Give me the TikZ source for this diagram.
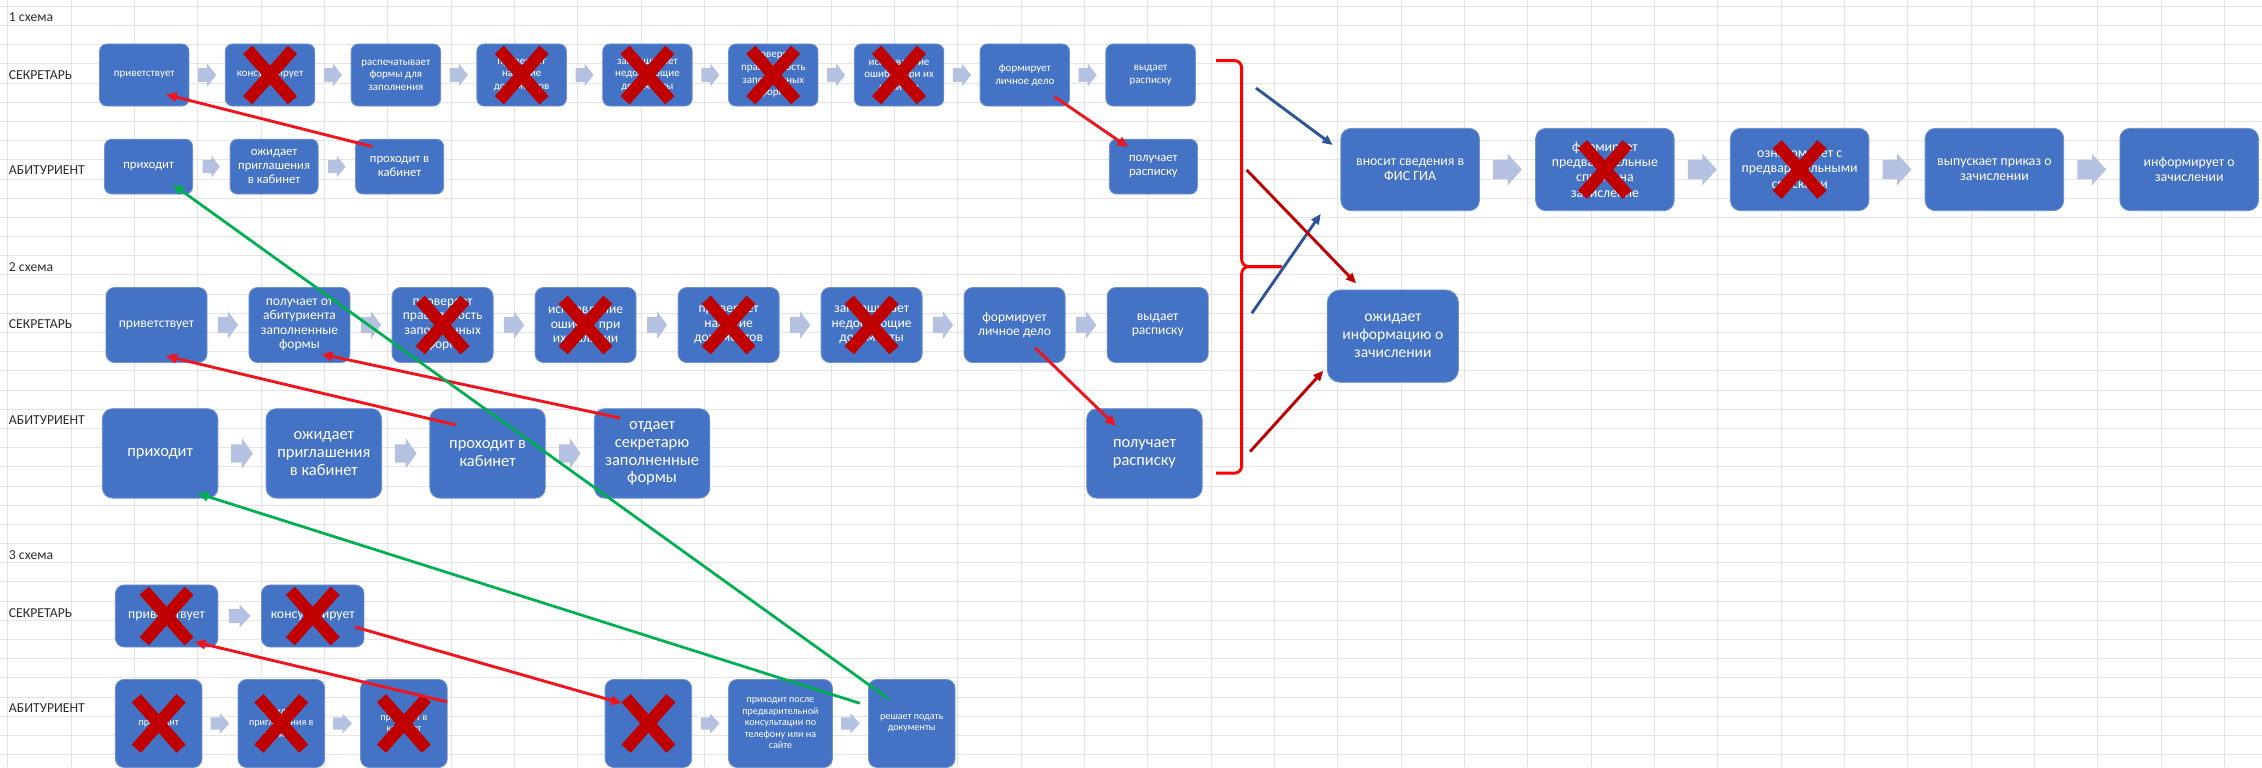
\documentclass[tikz,border=0pt]{standalone}
\usepackage{fontspec}
\setmainfont{Carlito}
\usetikzlibrary{calc,arrows.meta}
\definecolor{boxblue}{RGB}{68,114,196}
\definecolor{boxedge}{RGB}{110,145,210}
\definecolor{arrowc}{RGB}{180,193,224}
\definecolor{xred}{RGB}{192,0,0}
\definecolor{lred}{RGB}{240,20,30}
\definecolor{bred}{RGB}{255,0,0}
\definecolor{dred}{RGB}{192,0,0}
\definecolor{lgreen}{RGB}{0,176,80}
\definecolor{dblue}{RGB}{47,85,151}
\definecolor{gridc}{RGB}{228,228,228}
\definecolor{labc}{RGB}{45,45,45}
\newcommand\fs[2]{\fontsize{#1}{#2}\selectfont}
\newcommand\xmk[1]{\draw[xm] ($(#1.center)+(-15.5,-17.5)$) -- ($(#1.center)+(15.5,17.5)$) ($(#1.center)+(15.5,-17.5)$) -- ($(#1.center)+(-15.5,17.5)$);}
\tikzset{
  box/.style={rectangle, rounded corners=5pt, fill=boxblue, draw=boxedge, line width=0.6pt, text=white, align=center, inner sep=1pt},
  lab/.style={anchor=west, inner sep=0pt, text=labc, font=\fs{9.5}{11}},
  xm/.style={draw=xred, line width=8.5pt, line cap=butt},
  gridline/.style={draw=gridc, line width=0.7pt},
  rarrow/.style={draw=lred, line width=2pt, -{Triangle[length=7.5pt,width=6.5pt]}},
  garrow/.style={draw=lgreen, line width=1.9pt, -{Triangle[length=7.5pt,width=6.5pt]}},
  barrow/.style={draw=dblue, line width=2pt, -{Triangle[length=7pt,width=6pt]}},
  darrow/.style={draw=dred, line width=2pt, -{Triangle[length=7pt,width=6pt]}},
  bracel/.style={draw=bred, line width=2pt, rounded corners=5pt},
  pics/barr/.style args={#1/#2}{code={\fill[arrowc] (-#1/2,-0.3*#2) -- (0,-0.3*#2) -- (0,-#2/2) -- (#1/2,0) -- (0,#2/2) -- (0,0.3*#2) -- (-#1/2,0.3*#2) -- cycle;}}
}
\begin{document}
\begin{tikzpicture}[x=1pt,y=-1pt]
\useasboundingbox (0,0) rectangle (1568,532);
\fill[white] (0,0) rectangle (1568,532);
% spreadsheet grid
\foreach \i in {0,...,39} \draw[gridline] (0,4.4+13.3*\i) -- (1568,4.4+13.3*\i);
\foreach \j in {0,...,35} \draw[gridline] (5.5+43.9*\j,0) -- (5.5+43.9*\j,532);

% labels
\node[lab] (h1) at (6,11.6) {1 схема};
\node[lab] (sec1) at (6,52) {СЕКРЕТАРЬ};
\node[lab] (ab1) at (6,118) {АБИТУРИЕНТ};
\node[lab] (h2) at (6,185) {2 схема};
\node[lab] (sec2) at (6,225) {СЕКРЕТАРЬ};
\node[lab] (ab2) at (6,291) {АБИТУРИЕНТ};
\node[lab] (h3) at (6,385) {3 схема};
\node[lab] (sec3) at (6,425) {СЕКРЕТАРЬ};
\node[lab] (ab3) at (6,491) {АБИТУРИЕНТ};

% ---------- schema 1, secretary
\tikzset{s1/.style={box, minimum width=62pt, minimum height=43pt, font=\fs{7.6}{8.7}}}
\node[s1] (S1a) at (100,52) {приветствует};
\node[s1] (S1b) at (187.2,52) {консультирует};
\node[s1] (S1c) at (274.4,52) {распечатывает\\формы для\\заполнения};
\node[s1] (S1d) at (361.6,52) {проверяет\\наличие\\документов};
\node[s1] (S1e) at (448.8,52) {запрашивает\\недостающие\\документы};
\node[s1] (S1f) at (536,52) {проверяет\\правильность\\заполненных\\форм};
\node[s1] (S1g) at (623.2,52) {исправление\\ошибок при их\\наличии};
\node[s1] (S1h) at (710.4,52) {формирует\\личное дело};
\node[s1] (S1i) at (797.6,52) {выдает\\расписку};
\foreach \a/\b in {S1a/S1b,S1b/S1c,S1c/S1d,S1d/S1e,S1e/S1f,S1f/S1g,S1g/S1h,S1h/S1i}
  \pic at ($(\a.east)!0.5!(\b.west)$) {barr=12.5/16};

% schema 1, applicant
\tikzset{a1/.style={box, minimum width=61pt, minimum height=38pt, font=\fs{8.8}{9.8}}}
\node[a1] (A1a) at (103,115.5) {приходит};
\node[a1] (A1b) at (190,115.5) {ожидает\\приглашения\\в кабинет};
\node[a1] (A1c) at (277,115.5) {проходит в\\кабинет};
\node[a1] (A1d) at (799.5,115.5) {получает\\расписку};
\foreach \a/\b in {A1a/A1b,A1b/A1c}
  \pic at ($(\a.east)!0.5!(\b.west)$) {barr=12/15};

% ---------- right part
\tikzset{rb/.style={box, rounded corners=7pt, minimum width=96pt, minimum height=57pt, font=\fs{9.6}{10.6}}}
\node[rb] (R1) at (977.5,117.5) {вносит сведения в\\ФИС ГИА};
\node[rb] (R2) at (1112.5,117.5) {формирует\\предварительные\\списки на\\зачисление};
\node[rb] (R3) at (1247.5,117.5) {ознакомляет с\\предварительными\\списками};
\node[rb] (R4) at (1382.5,117.5) {выпускает приказ о\\зачислении};
\node[rb] (R5) at (1517.5,117.5) {информирует о\\зачислении};
\foreach \a/\b in {R1/R2,R2/R3,R3/R4,R4/R5}
  \pic at ($(\a.east)!0.5!(\b.west)$) {barr=20/22};
\node[box, rounded corners=9pt, minimum width=91pt, minimum height=64pt, font=\fs{10.8}{12.4}] (R6) at (965.5,233) {ожидает\\информацию о\\зачислении};

% ---------- schema 2, secretary
\tikzset{s2/.style={box, rounded corners=6pt, minimum width=70pt, minimum height=52pt, font=\fs{9.4}{10}}}
\node[s2] (S2a) at (108.5,225.3) {приветствует};
\node[s2] (S2b) at (207.6,225.3) {получает от\\абитуриента\\заполненные\\формы};
\node[s2] (S2c) at (306.8,225.3) {проверяет\\правильность\\заполненных\\форм};
\node[s2] (S2d) at (405.9,225.3) {исправление\\ошибок при\\их наличии};
\node[s2] (S2e) at (505.1,225.3) {проверяет\\наличие\\документов};
\node[s2] (S2f) at (604.2,225.3) {запрашивает\\недостающие\\документы};
\node[s2] (S2g) at (703.3,225.3) {формирует\\личное дело};
\node[s2] (S2h) at (802.5,225.3) {выдает\\расписку};
\foreach \a/\b in {S2a/S2b,S2b/S2c,S2c/S2d,S2d/S2e,S2e/S2f,S2f/S2g,S2g/S2h}
  \pic at ($(\a.east)!0.5!(\b.west)$) {barr=14/19};

% schema 2, applicant
\tikzset{a2/.style={box, rounded corners=7pt, minimum width=80pt, minimum height=62pt, font=\fs{11.4}{12.4}}}
\node[a2] (A2a) at (111,314.3) {приходит};
\node[a2] (A2b) at (224.5,314.3) {ожидает\\приглашения\\в кабинет};
\node[a2] (A2c) at (338,314.3) {проходит в\\кабинет};
\node[a2] (A2d) at (452,314.3) {отдает\\секретарю\\заполненные\\формы};
\node[a2] (A2e) at (793.3,314.3) {получает\\расписку};
\foreach \a/\b in {A2a/A2b,A2b/A2c,A2c/A2d}
  \pic at ($(\a.east)!0.5!(\b.west)$) {barr=15/21};

% ---------- schema 3, secretary
\tikzset{s3/.style={box, rounded corners=6pt, minimum width=71pt, minimum height=43pt, font=\fs{9.6}{10.5}}}
\node[s3] (S3a) at (115.5,427) {приветствует};
\node[s3] (S3b) at (216.8,427) {консультирует};
\pic at ($(S3a.east)!0.5!(S3b.west)$) {barr=15/16};

% schema 3, applicant
\tikzset{a3/.style={box, rounded corners=6pt, minimum width=60pt, minimum height=61pt, font=\fs{7}{8}}}
\node[a3] (A3a) at (110,501.5) {приходит};
\node[a3] (A3b) at (195,501.5) {ожидает\\приглашения в\\кабинет};
\node[a3] (A3c) at (280,501.5) {проходит в\\кабинет};
\node[a3] (A3d) at (449.5,501.5) {};
\node[a3, minimum width=72pt] (A3e) at (541,501.5) {приходит после\\предварительной\\консультации по\\телефону или на\\сайте};
\node[a3] (A3f) at (632,501.5) {решает подать\\документы};
\foreach \a/\b in {A3a/A3b,A3b/A3c,A3d/A3e,A3e/A3f}
  \pic at ($(\a.east)!0.5!(\b.west)$) {barr=13/14};

% connector whose end lies under a cross
\draw[rarrow] ([shift={(29.2,7.6)}]S3b.center) -- ([shift={(-18.5,-14)}]A3d.center);

% ---------- crosses
\foreach \n in {S1b,S1d,S1e,S1f,S1g,R2,R3,S2c,S2d,S2e,S2f,S3a,S3b,A3a,A3b,A3c,A3d} {\xmk{\n}}

% ---------- connectors
\draw[rarrow] ([shift={(-19,-13.9)}]A1c.center) -- ([shift={(15,13.5)}]S1a.center);
\draw[rarrow] ([shift={(20.6,15)}]S1h.center) -- ([shift={(-17.5,-13.5)}]A1d.center);
\draw[rarrow] ([shift={(-22,-19.7)}]A2c.center) -- ([shift={(6.5,21.5)}]S2a.center);
\draw[rarrow] ([shift={(-22,-24.5)}]A2d.center) -- ([shift={(15.4,20.2)}]S2b.center);
\draw[rarrow] ([shift={(14.2,15.7)}]S2g.center) -- ([shift={(-19.7,-19)}]A2e.center);
\draw[rarrow] ([shift={(30,-15)}]A3c.center) -- ([shift={(19.5,18)}]S3a.center);
\draw[garrow] ([shift={(-16,-17)}]A3f.center) -- ([shift={(17,12.5)}]A1a.center);
\draw[garrow] ([shift={(-36,-14)}]A3f.center) -- ([shift={(26,27.7)}]A2a.center);

% brace and final arrows
\coordinate (bt) at (843,42);
\coordinate (bm) at (888.4,184.8);
\coordinate (bb) at (843,328);
\draw[bracel] (bt) -- (860.7,42) -- (860.7,184.8) -- (bm);
\draw[bracel] (bm) -- (860.7,184.8) -- (860.7,328) -- (bb);
\coordinate (bs1) at (870.6,61);
\coordinate (bs2) at (867.7,217.2);
\coordinate (ds1) at (864.2,117.8);
\coordinate (ds2) at (866.5,313.1);
\draw[barrow] (bs1) -- ([shift={(-53.7,-17)}]R1.center);
\draw[barrow] (bs2) -- ([shift={(-62,30.8)}]R1.center);
\draw[darrow] (ds1) -- ([shift={(-25.5,-36.6)}]R6.center);
\draw[darrow] (ds2) -- ([shift={(-48.2,24)}]R6.center);
\end{tikzpicture}
\end{document}
